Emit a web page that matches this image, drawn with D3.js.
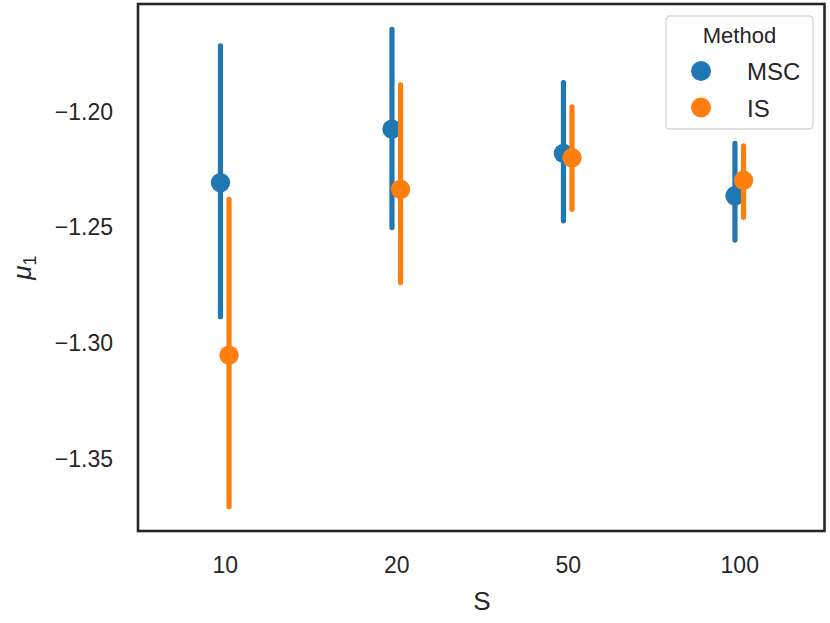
<!DOCTYPE html>
<html>
<head>
<meta charset="utf-8">
<script src="https://cdn.jsdelivr.net/npm/d3@7"></script>
<style>
  body { margin: 0; background: #fff; }
  text { font-family: "Liberation Sans", Arial, sans-serif; fill: #262626; }
</style>
</head>
<body>
<svg width="830" height="623"></svg>
<script>
const CATEGORIES = ["10", "20", "50", "100"];
const METHODS = ["MSC", "IS"];
const COLORS = ["#1f77b4", "#ff7f0e"];

// point estimates and interval ends
const MSC_MEAN = [-1.2306, -1.2075, -1.2180, -1.2363];
const MSC_LOW  = [-1.2885, -1.2500, -1.2471, -1.2554];
const MSC_HIGH = [-1.1716, -1.1644, -1.1874, -1.2137];
const IS_MEAN  = [-1.3051, -1.2335, -1.2199, -1.2296];
const IS_LOW   = [-1.3705, -1.2737, -1.2421, -1.2456];
const IS_HIGH  = [-1.2378, -1.1884, -1.1979, -1.2147];

const Y_TICKS = [-1.35, -1.30, -1.25, -1.20];

const plotLeft = 139, plotRight = 825, plotTop = 4, plotBottom = 531;

const svg = d3.select("svg");

const xScale = d3.scalePoint()
                 .domain(CATEGORIES)
                 .range([plotLeft, plotRight])
                 .padding(0.5);

const yScale = d3.scaleLinear()
                 .domain([-1.381, -1.1535])
                 .range([plotBottom, plotTop]);

const dodge = xScale.step() * 0.025;

const series = [
    { name: METHODS[0], color: COLORS[0], mean: MSC_MEAN, low: MSC_LOW, high: MSC_HIGH, off: -dodge },
    { name: METHODS[1], color: COLORS[1], mean: IS_MEAN, low: IS_LOW, high: IS_HIGH, off: dodge }
];

// y tick labels
const yAxis = d3.axisLeft(yScale)
                .tickValues(Y_TICKS)
                .tickSize(0)
                .tickPadding(25)
                .tickFormat(d => d3.format(".2f")(d).replace("-", "\u2212"));

svg.append("g")
   .attr("transform", `translate(${plotLeft - 1},0)`)
   .call(yAxis)
   .call(g => g.select(".domain").remove())
   .selectAll("text")
   .attr("font-size", 23)
   .attr("font-family", "Liberation Sans, Arial, sans-serif")
   .attr("fill", "#262626");

// x tick labels
const xAxis = d3.axisBottom(xScale).tickSize(0).tickPadding(26);
svg.append("g")
   .attr("transform", `translate(0,${plotBottom})`)
   .call(xAxis)
   .call(g => g.select(".domain").remove())
   .selectAll("text")
   .attr("font-size", 23)
   .attr("font-family", "Liberation Sans, Arial, sans-serif")
   .attr("fill", "#262626");

// marks
series.forEach(s => {
    const g = svg.append("g");
    g.selectAll("line")
     .data(CATEGORIES)
     .enter()
     .append("line")
     .attr("x1", (c) => xScale(c) + s.off)
     .attr("x2", (c) => xScale(c) + s.off)
     .attr("y1", (c, i) => yScale(s.low[i]))
     .attr("y2", (c, i) => yScale(s.high[i]))
     .attr("stroke", s.color)
     .attr("stroke-width", 5.2)
     .attr("stroke-linecap", "round");
    g.selectAll("circle")
     .data(CATEGORIES)
     .enter()
     .append("circle")
     .attr("cx", (c) => xScale(c) + s.off)
     .attr("cy", (c, i) => yScale(s.mean[i]))
     .attr("r", 9.7)
     .attr("fill", s.color);
});

// frame
svg.append("rect")
   .attr("x", plotLeft - 1)
   .attr("y", plotTop)
   .attr("width", plotRight - plotLeft + 0.5)
   .attr("height", plotBottom - plotTop)
   .attr("fill", "none")
   .attr("stroke", "#262626")
   .attr("stroke-width", 2.6);

// axis labels
svg.append("text")
   .attr("x", (plotLeft + plotRight) / 2)
   .attr("y", 610)
   .attr("text-anchor", "middle")
   .attr("font-size", 26)
   .text("S");

const yl = svg.append("text")
   .attr("transform", `translate(31,${(plotTop + plotBottom) / 2}) rotate(-90)`)
   .attr("text-anchor", "middle")
   .attr("font-size", 26);
yl.append("tspan").attr("font-style", "italic").text("\u03bc");
yl.append("tspan").attr("font-size", 18).attr("dy", 5).text("1");

// legend
const lg = svg.append("g");
lg.append("rect")
  .attr("x", 666)
  .attr("y", 16)
  .attr("width", 147)
  .attr("height", 113)
  .attr("rx", 4)
  .attr("fill", "#fff")
  .attr("fill-opacity", 0.8)
  .attr("stroke", "#d6d6d6")
  .attr("stroke-width", 1.4);
lg.append("text")
  .attr("x", 739.5)
  .attr("y", 43)
  .attr("text-anchor", "middle")
  .attr("font-size", 22)
  .text("Method");
series.forEach((s, i) => {
    const cy = 71 + i * 36.5;
    lg.append("circle").attr("cx", 701).attr("cy", cy).attr("r", 10).attr("fill", s.color);
    lg.append("text")
      .attr("x", 747)
      .attr("y", cy + 9)
      .attr("font-size", 24)
      .text(s.name);
});
</script>
</body>
</html>
